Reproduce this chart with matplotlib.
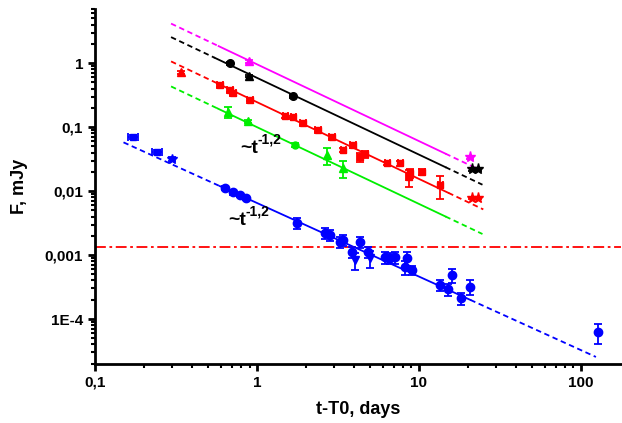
import matplotlib
matplotlib.use('Agg')
import matplotlib.pyplot as plt
import numpy as np

plt.rcParams['font.family'] = ['Liberation Sans', 'DejaVu Sans']
plt.rcParams['font.weight'] = 'bold'

# ---- data ----
# blue (optical, faint)
t_blue = [0.172, 0.242, 0.30, 0.637, 0.714, 0.79, 0.86, 1.78, 2.64, 2.84, 3.27,
          3.42, 3.88, 4.05, 4.35, 4.88, 5.02, 6.21, 6.67, 7.17, 8.5, 8.26, 9.13,
          13.6, 15.2, 16.1, 18.1, 20.6, 127]
f_blue = [0.070, 0.041, 0.032, 0.0111, 0.0096, 0.0087, 0.0078, 0.0032, 0.00221,
          0.00205, 0.00160, 0.00172, 0.00111, 0.00084, 0.0016, 0.00111, 0.00089,
          0.00092, 0.00089, 0.00092, 0.00089, 0.00065, 0.00058, 0.00034, 0.00029,
          0.00049, 0.00021, 0.00032, 6.3e-5]
e_blue = [0.08, 0.08, 0.08, 0.08, 0.08, 0.08, 0.08, 0.2, 0.2, 0.2, 0.2, 0.2, 0.2,
          0.3, 0.2, 0.2, 0.3, 0.2, 0.2, 0.2, 0.25, 0.25, 0.15, 0.2, 0.2, 0.25,
          0.2, 0.25, 0.35]
m_blue = ['s', 's', '*', 'o', 'o', 'o', 'o', 'o', 'o', 'o', 'o', 'o', 'o', 'v',
          'o', 'o', 'v', 'o', 'o', 'o', 'o', 'o', 'o', 'o', 'o', 'o', 'o', 'o', 'o']

# red
t_red = [0.59, 0.68, 0.71, 0.91, 1.50, 1.68, 1.93, 2.39, 2.92, 3.42, 3.94, 4.35,
         4.67, 6.4, 7.7, 8.63, 8.87, 10.5, 13.6]
f_red = [0.45, 0.38, 0.34, 0.27, 0.149, 0.143, 0.115, 0.090, 0.070, 0.044, 0.052,
         0.034, 0.038, 0.027, 0.027, 0.0166, 0.019, 0.0198, 0.0124]
e_red = [0.06, 0.06, 0.06, 0.06, 0.06, 0.06, 0.06, 0.06, 0.06, 0.06, 0.08, 0.15,
         0.12, 0.06, 0.1, 0.3, 0.15, 0.1, 0.4]
t_red_tri, f_red_tri = [0.34], [0.72]
t_red_star, f_red_star = [21.4, 23.2], [0.0078, 0.0078]

# black
t_black_o, f_black_o = [0.68, 1.68], [1.0, 0.305]
t_black_tri, f_black_tri = [0.89], [0.63]
t_black_star, f_black_star = [21.4, 23.2], [0.022, 0.022]

# magenta
t_mag_tri, f_mag_tri = [0.89], [1.07]
t_mag_star, f_mag_star = [20.8], [0.034]

# green
t_green_tri = [0.66, 0.88, 2.71, 3.42]
f_green_tri = [0.171, 0.124, 0.0365, 0.0228]
e_green_tri = [0.2, 0.06, 0.3, 0.3]
t_green_o, f_green_o = [1.72], [0.0524]

# power-law fits: (amplitude at 1 day, index, dashed-start, solid-start, solid-end, dashed-end)
fits = {
    '#ff00ff': (0.96, 1.2, 0.295, 0.58, 14.6, 23.9),
    'black':   (0.59, 1.2, 0.295, 0.55, 14.6, 24.7),
    '#ff0000': (0.246, 1.2, 0.295, 0.57, 15.2, 25.0),
    '#00ee00': (0.100, 1.2, 0.295, 0.57, 14.6, 24.7),
    '#0000ff': (0.00652, 1.15, 0.15, 0.59, 20.8, 124.0),
}
host_level = 0.00133

fig = plt.figure(figsize=(6.22, 4.23), dpi=100)
ax = fig.add_axes([0.1527, 0.1395, 0.845, 0.839])
ax.set_xscale('log')
ax.set_yscale('log')

for col, (amp, idx, t0, t1, t2, t3) in fits.items():
    for a, b, ls in [(t0, t1, (0, (3, 2))), (t1, t2, '-'), (t2, t3, (0, (3, 2)))]:
        tt = np.array([a, b])
        ax.plot(tt, amp * tt ** (-idx), color=col, lw=1.3, ls=ls)

ax.axhline(host_level, color='#ff0000', lw=1.3, ls=(0, (6, 2, 1.5, 2)))

eb = dict(ls='none', capsize=3, elinewidth=1.3, capthick=1.3)


def draw(t, f, err, col, marker, ms=6, xfrac=0.0):
    t = np.asarray(t)
    f = np.asarray(f)
    err = np.asarray(err) * f
    xe = t * xfrac if xfrac else None
    ax.errorbar(t, f, yerr=err, xerr=xe, color=col, marker=marker, ms=ms, mec=col, **eb)


for ti, fi, ei, mi in zip(t_blue, f_blue, e_blue, m_blue):
    xe = [[ti * 0.07], [ti * 0.07]] if mi == 's' else None
    ax.errorbar([ti], [fi], yerr=[ei * fi], xerr=xe, color='#0000ff', marker=mi,
                ms={'s': 4.5, '*': 7}.get(mi, 6), **eb)

draw(t_red, f_red, e_red, '#ff0000', 's', 4.5, xfrac=0.04)
draw(t_red_tri, f_red_tri, [0.06], '#ff0000', '^', 6)
draw(t_red_star, f_red_star, [0.05, 0.05], '#ff0000', '*', 8)

draw(t_black_o, f_black_o, [0.05, 0.05], 'black', 'o', 5.5)
draw(t_black_tri, f_black_tri, [0.05], 'black', '^', 6)
draw(t_black_star, f_black_star, [0.05, 0.05], 'black', '*', 8)

draw(t_mag_tri, f_mag_tri, [0.05], '#ff00ff', '^', 6)
draw(t_mag_star, f_mag_star, [0.05], '#ff00ff', '*', 8)

draw(t_green_tri, f_green_tri, e_green_tri, '#00ee00', '^', 6)
draw(t_green_o, f_green_o, [0.06], '#00ee00', 'o', 5)

# power-law labels: "~t" with a superscript index
for tx, fy in [(0.79, 0.047), (0.665, 0.0035)]:
    ax.text(tx, fy, '~t', fontsize=14, fontweight='bold', va='center')
    ax.annotate('-1,2', xy=(tx, fy), xytext=(12.5, 1), textcoords='offset points',
                fontsize=10, fontweight='bold', va='bottom', ha='left')

ax.set_xlim(0.1, 176)
ax.set_ylim(1.98e-5, 7.0)

ax.set_xticks([0.1, 1, 10, 100])
ax.set_xticklabels(['0,1', '1', '10', '100'])
ax.set_yticks([1e-4, 1e-3, 1e-2, 0.1, 1])
ax.set_yticklabels(['1E-4', '0,001', '0,01', '0,1', '1'])

for s in ['top', 'right']:
    ax.spines[s].set_visible(False)
for s in ['left', 'bottom']:
    ax.spines[s].set_linewidth(2)

ax.tick_params(which='major', direction='out', length=5, width=2, labelsize=11)
ax.tick_params(which='minor', direction='out', length=3, width=1.5)
for lab in ax.get_xticklabels() + ax.get_yticklabels():
    lab.set_fontweight('bold')

ax.set_xlabel('t-T0, days', fontsize=13, fontweight='bold', labelpad=8)
ax.set_ylabel('F, mJy', fontsize=13, fontweight='bold', labelpad=12)

fig.savefig('out.png', dpi=100)
